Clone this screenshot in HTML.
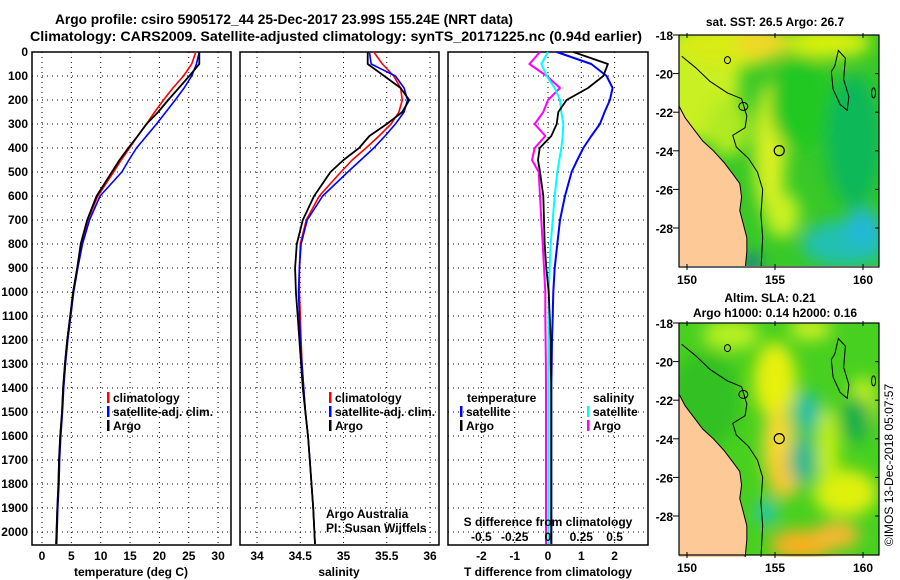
<!DOCTYPE html>
<html><head><meta charset="utf-8"><style>
html,body{margin:0;padding:0;background:#fff;}
svg{display:block;font-family:"Liberation Sans",sans-serif;}
.t{font-weight:bold;font-size:14px;}
.tk{font-weight:bold;font-size:12px;}
</style></head><body>
<svg id="fig" width="900" height="580" viewBox="0 0 900 580">
<defs>
<filter id="blur" x="-50%" y="-50%" width="200%" height="200%"><feGaussianBlur stdDeviation="8"/></filter>
<clipPath id="clipTop"><rect x="679" y="35" width="200" height="231"/></clipPath>
<clipPath id="clipBot"><rect x="679" y="323" width="200" height="234"/></clipPath>
</defs>
<text class="t" x="55" y="24" textLength="458" lengthAdjust="spacingAndGlyphs">Argo profile: csiro 5905172_44 25-Dec-2017 23.99S 155.24E (NRT data)</text>
<text class="t" x="30" y="41" textLength="612" lengthAdjust="spacingAndGlyphs">Climatology: CARS2009. Satellite-adjusted climatology: synTS_20171225.nc (0.94d earlier)</text>
<g id="g"></g>
<text x="893" y="465" transform="rotate(-90 893 465)" text-anchor="middle" font-size="12">©IMOS 13-Dec-2018 05:07:57</text>
</svg>
<script>
// ---- data ----
const depths = [0,50,100,150,200,250,300,350,400,450,500,600,700,800,900,1000,1100,1200,1300,1400,1500,1600,1700,1800,1900,2050];
const tempArgo = [26.8,26.8,25.1,23.3,21.5,19.8,17.8,16.3,14.7,13.2,11.9,9.3,7.7,6.6,6.0,5.3,4.8,4.3,3.9,3.6,3.4,3.1,2.9,2.8,2.6,2.4];
const tempClim = [26.2,25.5,24.1,22.3,20.7,19.2,17.8,16.3,14.9,13.5,12.2,9.5,7.8,6.7,6.0,5.3,4.8,4.3,3.9,3.6,3.4,3.1,2.9,2.8,2.6,2.4];
const tempSat = [26.8,26.3,25.5,24.2,22.7,21.1,19.5,17.8,16.1,14.8,13.6,9.9,8.1,6.9,6.1,5.4,4.9,4.4,4,3.7,3.5,3.2,3,2.9,2.7,2.5];
const salArgo = [35.28,35.28,35.47,35.66,35.76,35.68,35.5,35.3,35.18,35.0,34.85,34.66,34.53,34.46,34.44,34.45,34.47,34.49,34.51,34.53,34.56,34.59,34.61,34.63,34.65,34.67];
const salClim = [35.35,35.45,35.58,35.66,35.68,35.64,35.55,35.41,35.26,35.1,34.97,34.72,34.57,34.5,34.49,34.49,34.5,34.51,34.52,34.54,34.56,34.59,34.61,34.63,34.65,34.67];
const salSat = [35.3,35.32,35.6,35.7,35.74,35.7,35.6,35.48,35.35,35.2,35.05,34.76,34.58,34.51,34.49,34.48,34.49,34.5,34.52,34.54,34.56,34.59,34.61,34.63,34.65,34.67];
const dTempArgo = [0.76,1.8,1.66,1.2,0.56,0.31,0.26,0.1,-0.25,-0.3,-0.24,-0.14,-0.12,-0.1,-0.05,0.02,0.05,0.08,0.08,0.1,0.1,0.1,0.1,0.1,0.1,0.1];
const dTempSat = [0.26,1.3,1.76,1.94,1.86,1.7,1.56,1.3,1.06,0.88,0.71,0.51,0.36,0.28,0.2,0.16,0.14,0.12,0.11,0.1,0.1,0.1,0.1,0.1,0.1,0.1];
const dSalArgo = [-0.06,-0.14,-0.01,0.09,0.0,-0.035,-0.1,-0.02,-0.1,-0.12,-0.07,-0.06,-0.05,-0.04,-0.03,-0.02,-0.02,-0.018,-0.016,-0.015,-0.015,-0.015,-0.015,-0.015,-0.015,-0.015];
const dSalSat = [0,-0.05,-0.01,0.05,0.09,0.1,0.115,0.11,0.1,0.085,0.07,0.05,0.035,0.02,0.012,0.005,0.005,0.004,0.004,0.004,0.004,0.004,0.004,0.004,0.004,0.004];
const depthTicks = [0,100,200,300,400,500,600,700,800,900,1000,1100,1200,1300,1400,1500,1600,1700,1800,1900,2000];
const tempTicks = [0,5,10,15,20,25,30];
const salTicks = [34,34.5,35,35.5,36];
const salTickLabels = ["34","34.5","35","35.5","36"];
const dTempTicks = [-2,-1,0,1,2];
const dSalTicks = [-0.5,-0.25,0,0.25,0.5];
const dSalTickLabels = ["-0.5","-0.25","0","0.25","0.5"];
const latTicks = [-18,-20,-22,-24,-26,-28];
const lonTicks = [150,155,160];
const argoLon = 155.24, argoLat = -23.99;

const NS="http://www.w3.org/2000/svg";
const G=document.getElementById('g');
function el(tag,attrs,parent){const e=document.createElementNS(NS,tag);for(const k in attrs)e.setAttribute(k,attrs[k]);(parent||G).appendChild(e);return e;}
function txt(x,y,s,cls,anchor,parent){const e=el('text',{x:x,y:y,'class':cls||'tk','text-anchor':anchor||'middle'},parent);e.textContent=s;return e;}

const PY0=52, PY1=545;
const yD=d=>52+d*0.24;
const xT=t=>42+t*5.87;
const xS=s=>257+(s-34)*86.5;
const xdT=t=>548+t*33.3;
const xdS=s=>548+s*133.2;

function panel(x0,x1,name){
  const r=el('rect',{x:x0,y:PY0,width:x1-x0,height:PY1-PY0,fill:'none',stroke:'#000','stroke-width':1.5});
  
  
  depthTicks.forEach(d=>{
    const l=el('line',{x1:x0,x2:x1,y1:yD(d),y2:yD(d),stroke:'#000','stroke-dasharray':'1,4','stroke-width':1});
    
    
  });
}
function vgrid(xs,fx){
  xs.forEach(v=>{
    const l=el('line',{x1:fx(v),x2:fx(v),y1:PY0,y2:PY1,stroke:'#000','stroke-dasharray':'1,4','stroke-width':1});
    
    
  });
}
function series(vals,fx,color,w,name){
  const pts=vals.map((v,i)=>fx(v).toFixed(1)+','+yD(depths[i]).toFixed(1)).join(' ');
  const p=el('polyline',{points:pts,fill:'none',stroke:color,'stroke-width':w,'stroke-linejoin':'round'});
  
  
}
function legend(x,y,color,label){
  const b=el('rect',{x:x,y:y-10,width:2.5,height:11,fill:color});
  
  
  const t=txt(x+6,y,label,'tk','start');
  
  
}

// panel 1 temperature
panel(32,231,'temperature-panel');
vgrid(tempTicks,xT);
series(tempClim,xT,'#f00',1.6,'temp-climatology-line');
series(tempSat,xT,'#00f',1.6,'temp-satellite-line');
series(tempArgo,xT,'#000',1.8,'temp-argo-line');
depthTicks.forEach(d=>{const t=txt(28,yD(d)+4,String(d),'tk','end');});
tempTicks.forEach(v=>{const t=txt(xT(v),560,String(v));});
{const t=txt(131,576,'temperature (deg C)');}
legend(107,402,'#f00','climatology');legend(107,416,'#00f','satellite-adj. clim.');legend(107,430,'#000','Argo');

// panel 2 salinity
panel(240,439,'salinity-panel');
vgrid(salTicks,xS);
series(salClim,xS,'#f00',1.6,'sal-climatology-line');
series(salSat,xS,'#00f',1.6,'sal-satellite-line');
series(salArgo,xS,'#000',1.8,'sal-argo-line');
salTicks.forEach((v,i)=>{const t=txt(xS(v),560,salTickLabels[i]);});
{const t=txt(339,576,'salinity');}
legend(329,402,'#f00','climatology');legend(329,416,'#00f','satellite-adj. clim.');legend(329,430,'#000','Argo');
{const a=txt(326,518,'Argo Australia','','start');a.setAttribute('font-size','12');
 const b=txt(326,532,'PI: Susan Wijffels','','start');b.setAttribute('font-size','12');}

// panel 3 differences
panel(448,648,'difference-panel');
vgrid(dTempTicks,xdT);
series(dSalArgo,xdS,'#f0f',2,'sal-diff-argo-line');
series(dSalSat,xdS,'#0ff',2,'sal-diff-satellite-line');
series(dTempSat,xdT,'#00f',2,'temp-diff-satellite-line');
series(dTempArgo,xdT,'#000',1.8,'temp-diff-argo-line');
dTempTicks.forEach(v=>{const t=txt(xdT(v),560,String(v));});
dSalTicks.forEach((v,i)=>{const t=txt(xdS(v),541,dSalTickLabels[i]);});
{const t=txt(548,526,'S difference from climatology');}
{const t=txt(548,576,'T difference from climatology');}
{const t=txt(467,402,'temperature','tk','start');}
legend(460,416,'#00f','satellite');legend(460,430,'#000','Argo');
{const t=txt(593,402,'salinity','tk','start');}
legend(587,416,'#0ff','satellite');legend(587,430,'#f0f','Argo');

// ---- maps ----
const land=[[149.5,-21.6],[149.9,-22.3],[150.4,-22.9],[150.9,-23.5],[151.5,-24.0],[152.1,-24.6],[152.6,-25.2],[153.0,-25.7],[153.1,-26.4],[153.0,-27.1],[153.2,-27.8],[153.4,-28.5],[153.4,-29.2],[153.3,-30.2],[149.5,-30.2]];
const shelf=[[149.7,-19.1],[150.5,-19.7],[151.3,-20.4],[152.3,-21.0],[153.1,-21.3],[153.4,-22.2],[153.3,-22.8],[152.6,-23.2],[152.8,-23.8],[153.5,-24.4],[154.0,-25.1],[154.3,-26],[154.2,-27.3],[154.3,-28.5],[154.2,-30.2]];
const seamount=[[158.4,-19.6],[158.6,-18.8],[159.0,-19.2],[158.9,-20.3],[159.2,-21.2],[159.1,-21.9],[158.7,-21.6],[158.3,-20.8],[158.2,-19.9],[158.4,-19.6]];
function map(y0,clip,title1,title2,blobs,base,name){
  const X=lon=>687+(lon-150)*17.6, Y=lat=>y0+(-18-lat)*19.3;
  const H=232;
  const g=el('g',{'clip-path':'url(#'+clip+')'});
  
  
  el('rect',{x:679,y:y0,width:200,height:H,fill:base},g);
  const bg=el('g',{filter:'url(#blur)'},g);
  blobs.forEach(b=>el('ellipse',{cx:X(b[0]),cy:Y(b[1]),rx:b[2]*17.6,ry:b[3]*19.3,fill:b[4],opacity:b[5]||1},bg));
  const lp=el('polygon',{points:land.map(p=>X(p[0])+','+Y(p[1])).join(' '),fill:'#fcc997',stroke:'#000','stroke-width':1},g);
  
  el('polyline',{points:shelf.map(p=>X(p[0])+','+Y(p[1])).join(' '),fill:'none',stroke:'#000','stroke-width':1},g);
  el('polyline',{points:seamount.map(p=>X(p[0])+','+Y(p[1])).join(' '),fill:'none',stroke:'#000','stroke-width':1},g);
  el('ellipse',{cx:X(152.3),cy:Y(-19.3),rx:3,ry:3.5,fill:'none',stroke:'#000'},g);
  el('ellipse',{cx:X(153.2),cy:Y(-21.7),rx:4.5,ry:4,fill:'none',stroke:'#000'},g);
  el('ellipse',{cx:X(160.6),cy:Y(-21.0),rx:2,ry:5,fill:'none',stroke:'#000'},g);
  const c=el('circle',{cx:X(argoLon),cy:Y(argoLat),r:5,fill:'none',stroke:'#000','stroke-width':1.2});
  
  const f=el('rect',{x:679,y:y0,width:200,height:H,fill:'none',stroke:'#000','stroke-width':1.2});
  
  latTicks.forEach(l=>{el('line',{x1:879,x2:875,y1:Y(l),y2:Y(l),stroke:'#000'});el('line',{x1:673,x2:679,y1:Y(l),y2:Y(l),stroke:'#000'});
    const t=txt(673,Y(l)+5,String(l),'tk','end');t.setAttribute('font-size','13');});
  lonTicks.forEach(l=>{el('line',{x1:X(l),x2:X(l),y1:y0-2,y2:y0+3,stroke:'#000'});el('line',{x1:X(l),x2:X(l),y1:y0+H+3,y2:y0+H-3,stroke:'#000'});
    const t=txt(X(l),y0+H+17,String(l));t.setAttribute('font-size','13');});
  if(title2){const a=txt(770,y0-21,title1);
    const b=txt(775,y0-6,title2);}
  else{const a=txt(775,y0-9,title1);}
}
map(35,'clipTop','sat. SST: 26.5 Argo: 26.7',null,[
 [150.5,-20.5,2.5,3,'#c8f020'],[152.5,-18.5,3,1.2,'#d8ec18'],[154.3,-18.4,1.5,0.9,'#f0d828'],[158,-18.4,2.5,0.8,'#d8f010'],
 [154.7,-24,0.9,3.5,'#d8f020'],[155.4,-27.3,1,1.2,'#c8f020'],[152.3,-22.8,1.2,1.5,'#b0ea20'],
 [156.5,-21.5,1.8,2.5,'#20c820'],[159.5,-23.5,1.6,3.5,'#10b858'],[159,-28.8,2.5,1.2,'#20c0b0'],[160,-28,1,1,'#20b8d8'],[153.7,-29.8,0.3,0.5,'#1040e0']
],'#38c828','sst-map');
map(323,'clipBot','Altim. SLA: 0.21','Argo h1000: 0.14 h2000: 0.16',[
 [155,-21,1.2,2,'#e8f008'],[155.2,-24.5,0.9,2.2,'#f8d830'],[155.5,-26,0.9,1.1,'#f8c830'],[156.5,-29.5,1.8,0.8,'#f8b020'],[158.5,-29,1.3,0.7,'#f8b830'],
 [159,-26.8,1.8,1.2,'#e0f010'],[158,-24.5,0.6,2.2,'#c8f010'],[160,-22.3,0.8,1.5,'#c8f020'],[152.5,-18.6,1.6,0.8,'#b8f020'],[157,-18.3,1.2,0.6,'#c8f020'],
 [156.8,-22.6,0.8,1.1,'#20c0a0'],[156.6,-25.1,0.8,1.3,'#20b890'],[154.5,-27.8,0.6,0.7,'#20c8b0'],[159.6,-23,0.9,1.2,'#18b048'],[151,-22,2,2.5,'#30c020']
],'#48d020','sla-map');
</script>
</body></html>
